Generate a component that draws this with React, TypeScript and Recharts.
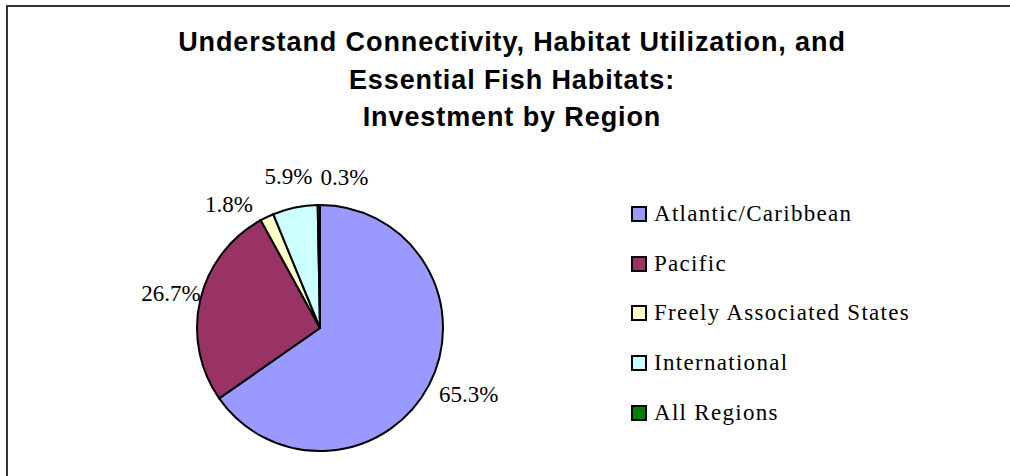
import { PieChart, Pie, Cell, Legend } from "recharts";

const regions = [
  "Atlantic/Caribbean",
  "Pacific",
  "Freely Associated States",
  "International",
  "All Regions",
];
const shares = [65.3, 26.7, 1.8, 5.9, 0.3];
const colors = ["#9999FF", "#993366", "#FFFFCC", "#CCFFFF", "#008000"];
const titleLines = [
  "Understand Connectivity, Habitat Utilization, and",
  "Essential Fish Habitats:",
  "Investment by Region",
];

const data = regions.map((name, i) => ({ name, value: shares[i] }));

const serif = '"Liberation Serif", "Times New Roman", serif';
const sans = '"Liberation Sans", Arial, sans-serif';
const RAD = Math.PI / 180;

// distance of each label from the pie edge, plus Excel's collision nudges
const labelGap = [39, 30, 30, 32, 28];
const labelNudge = [
  [5, -8],
  [0, 0],
  [-25, 15],
  [0, 0],
  [26, 0],
];

function renderLabel(props: any) {
  const { cx, cy, midAngle, outerRadius, index, value } = props;
  const r = outerRadius + labelGap[index];
  const x = cx + r * Math.cos(-midAngle * RAD) + labelNudge[index][0];
  const y = cy + r * Math.sin(-midAngle * RAD) + labelNudge[index][1];
  return (
    <text
      x={x}
      y={y}
      textAnchor="middle"
      dominantBaseline="central"
      fontFamily={serif}
      fontSize={23}
      fill="#000"
    >
      {value.toFixed(1)}%
    </text>
  );
}

function renderLegend() {
  return (
    <div style={{ fontFamily: serif, fontSize: 23, color: "#000" }}>
      {regions.map((name, i) => (
        <div
          key={name}
          style={{
            display: "flex",
            alignItems: "center",
            height: 49.75,
            letterSpacing: 1.3,
            whiteSpace: "nowrap",
          }}
        >
          <span
            style={{
              width: 12,
              height: 12,
              border: "2px solid #000",
              background: colors[i],
              marginRight: 7,
              flexShrink: 0,
            }}
          />
          {name}
        </div>
      ))}
    </div>
  );
}

export default function App() {
  return (
    <div
      style={{
        position: "absolute",
        left: 0,
        top: 0,
        width: 1010,
        height: 476,
        overflow: "hidden",
        background: "#fff",
      }}
    >
      <div
        style={{
          position: "absolute",
          left: 6,
          top: 5,
          width: 1100,
          height: 600,
          border: "2px solid #333",
        }}
      />
      <div
        style={{
          position: "absolute",
          left: 0,
          top: 24,
          width: 1024,
          textAlign: "center",
          fontFamily: sans,
          fontWeight: "bold",
          fontSize: 27,
          letterSpacing: 0.9,
          lineHeight: "37.5px",
          color: "#000",
        }}
      >
        {titleLines.map((t) => (
          <div key={t}>{t}</div>
        ))}
      </div>
      <div style={{ position: "absolute", left: 0, top: 0 }}>
        <PieChart
          width={1010}
          height={476}
          margin={{ top: 0, right: 0, bottom: 0, left: 0 }}
        >
          <Pie
            data={data}
            dataKey="value"
            nameKey="name"
            cx={320}
            cy={328}
            outerRadius={123}
            startAngle={90}
            endAngle={-270}
            stroke="#000"
            strokeWidth={2}
            label={renderLabel}
            labelLine={false}
            isAnimationActive={false}
          >
            {data.map((d, i) => (
              <Cell key={d.name} fill={colors[i]} />
            ))}
          </Pie>
          <Legend
            content={renderLegend}
            layout="vertical"
            verticalAlign="top"
            align="right"
            wrapperStyle={{ left: 631, top: 189, right: "auto", width: "auto" }}
          />
        </PieChart>
      </div>
    </div>
  );
}
